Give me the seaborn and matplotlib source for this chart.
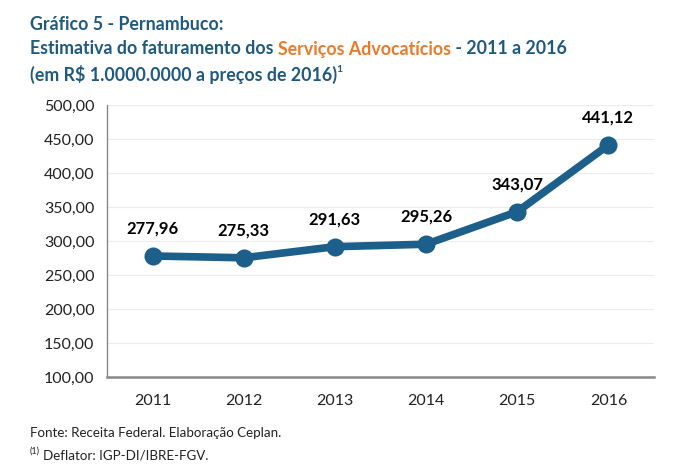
import matplotlib
matplotlib.use("Agg")
import matplotlib.pyplot as plt
import seaborn as sns
import numpy as np

years = ["2011", "2012", "2013", "2014", "2015", "2016"]
values = [277.96, 275.33, 291.63, 295.26, 343.07, 441.12]
labels = ["277,96", "275,33", "291,63", "295,26", "343,07", "441,12"]
yticks = [100, 150, 200, 250, 300, 350, 400, 450, 500]
ytick_labels = ["100,00", "150,00", "200,00", "250,00", "300,00", "350,00", "400,00", "450,00", "500,00"]

sns.set_style("white")
plt.rcParams['font.family'] = ['Lato', 'DejaVu Sans']

BLUE = "#1c5f8a"
TITLE = "#1f5a7e"
ORANGE = "#e87a2b"

fig = plt.figure(figsize=(6.8, 4.73), dpi=100)
ax = fig.add_axes([107/680, 1-377/473, (654-107)/680, (377-105)/473])

pos = list(range(len(years)))
sns.lineplot(x=pos, y=values, ax=ax, color=BLUE, linewidth=5.5, marker='o',
             markersize=13, markeredgewidth=0, markerfacecolor=BLUE)

for p, v, l in zip(pos, values, labels):
    ax.annotate(l, (p, v), xytext=(0, 14), textcoords='offset points',
                ha='center', va='bottom', fontsize=12, fontweight='bold', color='black')

ax.set_xlim(-0.5, len(years)-0.5)
ax.set_ylim(100, 500)
ax.set_yticks(yticks)
ax.set_yticklabels(ytick_labels, fontsize=11.5, color='#222222')
ax.set_xticks(pos)
ax.set_xticklabels(years, fontsize=11.5, color='#222222')
ax.set_xticks(np.arange(-0.5, len(years), 1.0), minor=True)
ax.tick_params(axis='x', which='major', length=0, pad=12)
ax.tick_params(axis='x', which='minor', length=5, color='#888888', width=1, direction='out')
ax.tick_params(axis='y', length=5, color='#888888', width=1, direction='out', pad=4)
ax.grid(axis='y', color='#ececec', linewidth=0.8)
ax.set_axisbelow(True)
for s in ['top', 'right']:
    ax.spines[s].set_visible(False)
ax.spines['left'].set_color('#888888')
ax.spines['bottom'].set_color('#888888')
ax.spines['left'].set_linewidth(1)
ax.spines['bottom'].set_linewidth(1.8)
ax.set_xlabel("")
ax.set_ylabel("")

# Title
tfs = 12.8
fig.text(30/680, 1-24/473, "Gráfico 5 - Pernambuco:", fontsize=tfs, fontweight='bold',
         color=TITLE, va='center', ha='left')
fig.canvas.draw()
r = fig.canvas.get_renderer()
t1 = fig.text(30/680, 1-49/473, "Estimativa do faturamento dos ", fontsize=tfs, fontweight='bold',
              color=TITLE, va='center', ha='left')
bb = t1.get_window_extent(r)
t2 = fig.text(bb.x1/680, 1-49/473, "Serviços Advocatícios", fontsize=tfs, fontweight='bold',
              color=ORANGE, va='center', ha='left')
bb2 = t2.get_window_extent(r)
fig.text(bb2.x1/680, 1-49/473, " - 2011 a 2016", fontsize=tfs, fontweight='bold',
         color=TITLE, va='center', ha='left')
t3 = fig.text(30/680, 1-74/473, "(em R\\$ 1.0000.0000 a preços de 2016)", fontsize=tfs,
              fontweight='bold', color=TITLE, va='center', ha='left')
bb3 = t3.get_window_extent(r)
fig.text(bb3.x1/680 - 1/680, 1-70/473, "1", fontsize=7.5, fontweight='bold',
         color=TITLE, va='center', ha='left')

# Footer
ffs = 9.6
fig.text(30/680, 1-433/473, "Fonte: Receita Federal. Elaboração Ceplan.", fontsize=ffs,
         color='#222222', va='center', ha='left')
ft = fig.text(30/680, 1-451/473, "(1)", fontsize=6.5,
              color='#222222', va='center', ha='left')
fbb = ft.get_window_extent(r)
fig.text(fbb.x1/680 + 3/680, 1-455/473, "Deflator: IGP-DI/IBRE-FGV.", fontsize=ffs,
         color='#222222', va='center', ha='left')

fig.savefig("out.png", dpi=100)
